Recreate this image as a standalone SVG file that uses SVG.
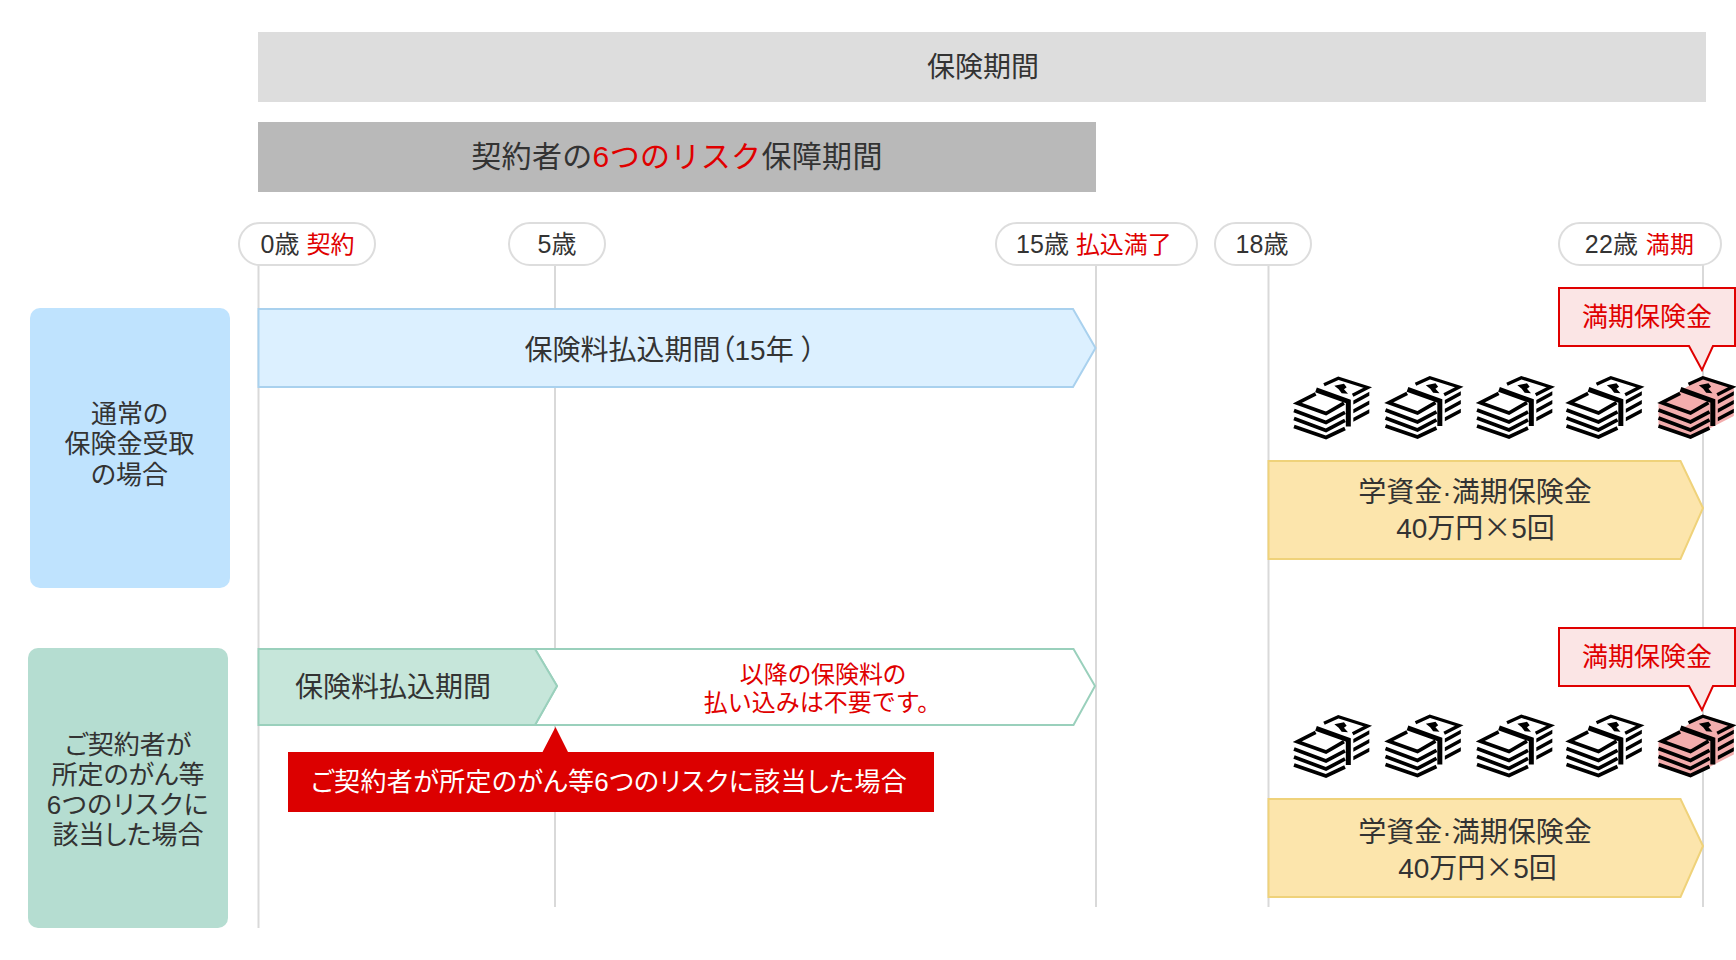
<svg xmlns="http://www.w3.org/2000/svg" width="1736" height="960" viewBox="0 0 1736 960">
<style>
text{font-family:"Liberation Sans","Noto Sans CJK JP",sans-serif;fill:#333;text-anchor:middle;font-feature-settings:"palt"}
.r{fill:#e00000}.w{fill:#fff}
.np{font-feature-settings:normal}
.cj{font-family:"Noto Sans CJK JP",sans-serif;font-feature-settings:normal}
.f28{font-size:28px}.f26{font-size:26px}.f25{font-size:25px}.f24{font-size:24px}.f30{font-size:30px}
.pill{fill:#fff;stroke:#ddd;stroke-width:2}
.vl{stroke:#d9d9d9;stroke-width:2;fill:none}
.call{fill:#fbe5e5;stroke:#e00000;stroke-width:2}
.yel{fill:#fce5ac;stroke:#efd27a;stroke-width:2}
.bk{fill:none;stroke:#000;stroke-width:11}
</style>
<defs>
<g id="money" transform="scale(.3333) translate(-42,-20)">
<path class="bk" d="M107 72L52 100L138 131L192 100"/>
<path class="bk" d="M42 122L138 158L195 128M42 146L138 182L195 152M42 170L138 203L195 176"/>
<path class="bk" style="stroke-width:15" d="M108 60L205 95L205 170"/>
<path d="M220 92L268 66V78L220 104ZM220 118L268 92V104L220 130ZM220 144L268 118V130L220 156Z"/>
<path class="bk" style="stroke-width:10" d="M132 45L175 25L263 53L218 76"/>
<path d="M163 48L192 42L200 52L192 58L204 72L185 70L176 58Z"/>
</g>
</defs>
<g id="connectors">
<path class="vl" d="M258.500 265V928M555 265V907M1096 265V907M1268.500 265V907M1703 265V907"/>
</g>
<g id="bar-period"><rect x="258" y="32" width="1448" height="70" fill="#ddd"/><text class="f28" x="983" y="77">保険期間</text></g>
<g id="bar-risk"><rect x="258" y="122" width="838" height="70" fill="#b9b9b9"/><text class="f30 np" x="677" y="167" style="letter-spacing:.35px">契約者の<tspan class="r">6つのリスク</tspan>保障期間</text></g>
<g id="age-0"><rect class="pill" x="239" y="223" width="136" height="42" rx="21"/><text class="f25" x="307.500" y="253">0歳 <tspan class="r f24">契約</tspan></text></g>
<g id="age-5"><rect class="pill" x="509" y="223" width="96" height="42" rx="21"/><text class="f25" x="557" y="253">5歳</text></g>
<g id="age-15"><rect class="pill" x="996" y="223" width="201" height="42" rx="21"/><text class="f25" x="1094" y="253">15歳 <tspan class="r f24">払込満了</tspan></text></g>
<g id="age-18"><rect class="pill" x="1215" y="223" width="96" height="42" rx="21"/><text class="f25" x="1262" y="253">18歳</text></g>
<g id="age-22"><rect class="pill" x="1559" y="223" width="162" height="42" rx="21"/><text class="f25" x="1639.500" y="253" style="letter-spacing:.3px">22歳 <tspan class="r f24">満期</tspan></text></g>
<g id="label-normal"><rect x="30" y="308" width="200" height="280" rx="10" fill="#bfe3fe"/><text class="f26" x="129.500" y="423">通常の</text><text class="f26" x="129.500" y="453">保険金受取</text><text class="f26" x="129.500" y="483.500">の場合</text></g>
<g id="label-cancer"><rect x="28" y="648" width="200" height="280" rx="10" fill="#b5ddd1"/><text class="f26" x="128" y="754">ご契約者が</text><text class="f26" x="128" y="784">所定のがん等</text><text class="f26" x="128" y="814" style="letter-spacing:.8px">6つのリスクに</text><text class="f26" x="128" y="844">該当した場合</text></g>
<g id="premium-normal"><path d="M258.500 309H1073L1095.500 348L1073 387H258.500Z" fill="#dcf0ff" stroke="#a9d1ee" stroke-width="2"/><text class="f28" x="670" y="360">保険料払込期間（15年 ）</text></g>
<g id="premium-waived"><path d="M535 649H1073.500L1095 686L1073.500 725H535L557 686Z" fill="#fff" stroke="#9ad0bc" stroke-width="2"/><text class="f24 r" x="823" y="683">以降の保険料の</text><text class="f24 r np" x="822.500" y="711">払い込みは不要です。</text></g>
<g id="premium-cancer"><path d="M258.500 649H535L557 686L535 725H258.500Z" fill="#c6e6da" stroke="#9ad0bc" stroke-width="2"/><text class="f28" x="393" y="697">保険料払込期間</text></g>
<g id="trigger"><path d="M288 752H542.500L555.500 727L568 752H934V812H288Z" fill="#dc0000"/><text class="f26 w" x="609" y="790.500" style="letter-spacing:.4px">ご契約者が所定のがん等6つのリスクに該当した場合</text></g>
<g id="payout-1"><path class="yel" d="M1268.500 461H1680.500L1703 508L1680.500 559H1268.500Z"/><text class="f28" x="1475" y="502">学資金·満期保険金</text><text class="f28" x="1475.500" y="538">40万円<tspan class="cj">×</tspan>5回</text></g>
<g id="payout-2"><path class="yel" d="M1268.500 799H1680.500L1703 846L1680.500 897H1268.500Z"/><text class="f28" x="1475" y="841.500">学資金·満期保険金</text><text class="f28" x="1477.500" y="878">40万円<tspan class="cj">×</tspan>5回</text></g>
<g id="callout-1"><path class="call" d="M1559 288H1735V346H1713L1702 370L1689 346H1559Z"/><text class="f26" style="fill:#e00000" x="1647" y="326">満期保険金</text></g>
<g id="callout-2"><path class="call" d="M1559 628H1735V686H1713L1702 710L1689 686H1559Z"/><text class="f26" style="fill:#e00000" x="1647" y="666">満期保険金</text></g>
<g id="money-1">
<use href="#money" transform="translate(1294,376.500)"/>
<use href="#money" transform="translate(1385.500,376)"/>
<use href="#money" transform="translate(1477,376)"/>
<use href="#money" transform="translate(1566.500,376)"/>
<path transform="translate(1658.500,376) scale(.3333) translate(-42,-20)" d="M42 100L105 68L175 20L268 52V140L205 172L138 208L42 170Z" fill="#f3adad"/>
<use href="#money" transform="translate(1658.500,376)"/>
</g>
<g id="money-2">
<use href="#money" transform="translate(1294,715)"/>
<use href="#money" transform="translate(1385.500,714.500)"/>
<use href="#money" transform="translate(1477,714.500)"/>
<use href="#money" transform="translate(1566.500,714.500)"/>
<path transform="translate(1658.500,714.500) scale(.3333) translate(-42,-20)" d="M42 100L105 68L175 20L268 52V140L205 172L138 208L42 170Z" fill="#f3adad"/>
<use href="#money" transform="translate(1658.500,714.500)"/>
</g>
</svg>
